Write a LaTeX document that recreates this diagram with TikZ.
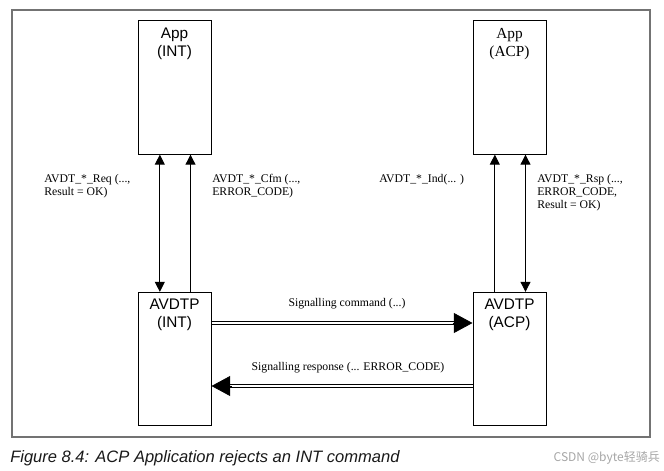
\documentclass[tikz,border=0pt]{standalone}
\usepackage{fontspec}
\setmainfont{Liberation Serif}
\setsansfont{Liberation Sans}
\newfontfamily\cjkfont{Noto Sans CJK SC}
\usepackage{tikz}
\usetikzlibrary{arrows.meta,calc,positioning}

\tikzset{
  blk/.style={draw,line width=0.75pt,minimum width=54.75pt,minimum height=100pt,inner sep=0pt},
  blktxt/.style={font=\sffamily\fontsize{11.5}{13.5}\selectfont,align=center,inner sep=0pt},
  msg/.style={font=\fontsize{8.8}{9.75}\selectfont,align=left,inner sep=0pt},
  vline/.style={line width=0.7pt},
  sig/.style={double,double distance=1.6pt,line width=0.6pt,shorten >=12pt},
  sighead/.style={line width=0.6pt,-{Triangle[length=14pt,width=15pt]}}
}

\begin{document}
\begin{tikzpicture}[x=0.75pt,y=-0.75pt,>={Triangle[length=7.5pt,width=7.5pt]}]
  \useasboundingbox (0,0) rectangle (664,471);
  \draw[black!55,line width=1.2pt] (12,10) rectangle (650,437);

  % blocks
  \node[blk] (appint) at (174.5,87.5) {};
  \node[blk] (appacp) at (509.5,87.5) {};
  \node[blk] (avint) at (174.5,359) {};
  \node[blk] (avacp) at (509.5,359) {};
  \node[blktxt] (appintt) at (174.5,44) {App\\(INT)};
  \node[blktxt,font=\rmfamily\fontsize{11.5}{13.5}\selectfont] (appacpt) at (509.5,44) {App\\(ACP)};
  \node[blktxt] (avintt) at (174.5,314.5) {AVDTP\\(INT)};
  \node[blktxt] (avacpt) at (509.5,314.5) {AVDTP\\(ACP)};

  % primitives between app and avdtp
  \draw[vline,<->] ([xshift=-11pt]avint.north) -- ([xshift=-11pt]appint.south);
  \draw[vline,->] ([xshift=12pt]avint.north) -- ([xshift=12pt]appint.south);
  \draw[vline,->] ([xshift=-11pt]avacp.north) -- ([xshift=-11pt]appacp.south);
  \draw[vline,<->] ([xshift=12pt]avacp.north) -- ([xshift=12pt]appacp.south);

  \node[msg,anchor=west] (req) at (44,186.5) {AVDT\_*\_Req (...,\\Result = OK)};
  \node[msg,anchor=west] (cfm) at (212,186.5) {AVDT\_*\_Cfm (...,\\ERROR\_CODE)};
  \node[msg,anchor=west] (ind) at (379,180) {AVDT\_*\_Ind(... )};
  \node[msg,anchor=west] (rsp) at (537,193) {AVDT\_*\_Rsp (...,\\ERROR\_CODE,\\Result = OK)};

  % signalling
  \coordinate (cmd) at (0,323);
  \coordinate (res) at (0,386);
  \draw[sig] (avint.east |- cmd) -- (avacp.west |- cmd);
  \draw[sighead] ($(avacp.west |- cmd)+(-20,0)$) -- (avacp.west |- cmd);
  \draw[sig] (avacp.west |- res) -- (avint.east |- res);
  \draw[sighead] ($(avint.east |- res)+(20,0)$) -- (avint.east |- res);
  \node[msg] (cmdl) at (347,304) {Signalling command (...)};
  \node[msg] (resl) at (348,368) {Signalling response (... ERROR\_CODE)};

  \node[font=\sffamily\itshape\fontsize{12.4}{14}\selectfont,anchor=west,inner sep=0pt,black!90] (cap) at (10,458) {Figure 8.4: ACP Application rejects an INT command};
  \node[font=\cjkfont\fontsize{9}{10}\selectfont,anchor=east,inner sep=0pt,black!35] (wm) at (660,458) {CSDN @byte轻骑兵};
\end{tikzpicture}
\end{document}
